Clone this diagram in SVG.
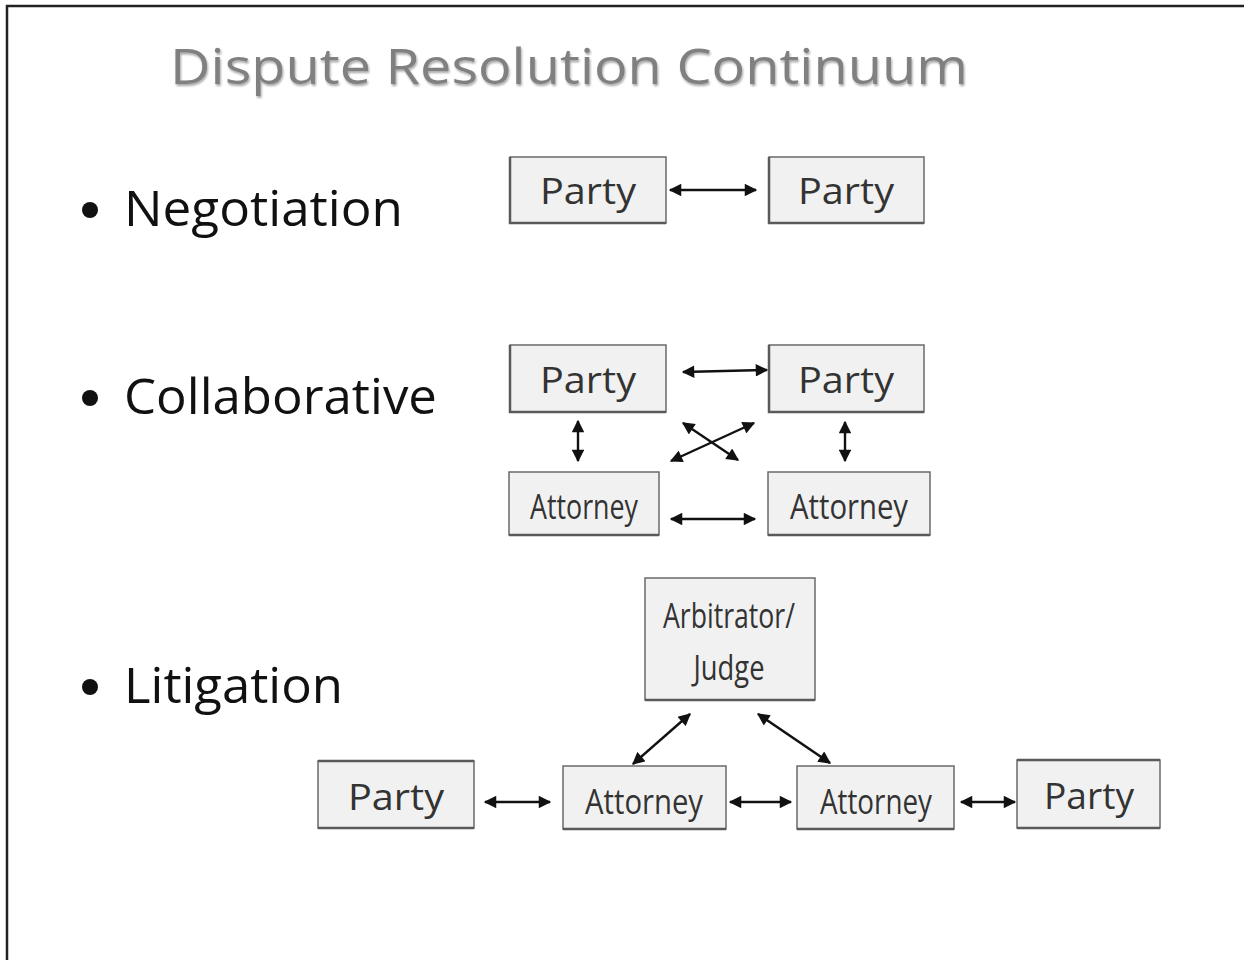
<svg xmlns="http://www.w3.org/2000/svg" width="1244" height="960" viewBox="0 0 1244 960">
<defs>
<marker id="ah" viewBox="0 0 10 10" refX="9" refY="5" markerWidth="5.6" markerHeight="5.2" orient="auto-start-reverse" markerUnits="strokeWidth">
<path d="M0,0 L10,5 L0,10 z" fill="#111"/>
</marker>
<filter id="sh" x="-5%" y="-20%" width="110%" height="150%">
<feGaussianBlur in="SourceAlpha" stdDeviation="1.2"/>
<feOffset dx="1" dy="2" result="b"/>
<feComponentTransfer><feFuncA type="linear" slope="0.35"/></feComponentTransfer>
<feMerge><feMergeNode/><feMergeNode in="SourceGraphic"/></feMerge>
</filter>
</defs>
<style>
.box{fill:#f1f1f1;stroke:#6a6a6a;stroke-width:1.5}
.edge{stroke:#5a5a5a;stroke-width:2.5;fill:none}
.lbl{font-family:"Open Sans","Noto Sans",sans-serif;fill:#333;text-anchor:middle}
.party{font-size:37px}
.att{font-size:34px}
.bul{font-family:"Open Sans","Noto Sans",sans-serif;font-size:49px;fill:#111}
.con{stroke:#111;stroke-width:2.4;fill:none;marker-start:url(#ah);marker-end:url(#ah)}
</style>
<rect width="1244" height="960" fill="#fff"/>
<path d="M7,960 L7,6 L1244,6" fill="none" stroke="#222" stroke-width="2.5"/>
<text x="170" y="84" font-family="'Open Sans','Noto Sans',sans-serif" font-size="50" fill="#808080" textLength="798" lengthAdjust="spacingAndGlyphs" filter="url(#sh)">Dispute Resolution Continuum</text>
<g id="bullets">
<circle cx="90" cy="210" r="8" fill="#111"/>
<text class="bul" x="124" y="226" textLength="279" lengthAdjust="spacingAndGlyphs">Negotiation</text>
<circle cx="90" cy="398" r="8" fill="#111"/>
<text class="bul" x="124" y="414" textLength="313" lengthAdjust="spacingAndGlyphs">Collaborative</text>
<circle cx="90" cy="687" r="8" fill="#111"/>
<text class="bul" x="124" y="703" textLength="219" lengthAdjust="spacingAndGlyphs">Litigation</text>
</g>
<g id="neg-party1"><rect class="box" x="510" y="157" width="156" height="66"/><path class="edge" d="M510,157 V223 H666"/><text class="lbl party" x="588" y="204" textLength="96" lengthAdjust="spacingAndGlyphs">Party</text></g>
<g id="neg-party2"><rect class="box" x="769" y="157" width="155" height="66"/><path class="edge" d="M769,157 V223 H924"/><text class="lbl party" x="846" y="204" textLength="96" lengthAdjust="spacingAndGlyphs">Party</text></g>
<g id="col-party1"><rect class="box" x="510" y="345" width="156" height="67"/><path class="edge" d="M510,345 V412 H666"/><text class="lbl party" x="588" y="393" textLength="96" lengthAdjust="spacingAndGlyphs">Party</text></g>
<g id="col-party2"><rect class="box" x="769" y="345" width="155" height="67"/><path class="edge" d="M769,345 V412 H924"/><text class="lbl party" x="846" y="393" textLength="96" lengthAdjust="spacingAndGlyphs">Party</text></g>
<g id="col-att1"><rect class="box" x="509" y="472" width="150" height="63"/><path class="edge" d="M509,535 H659"/><text class="lbl att" x="584" y="519" textLength="108" lengthAdjust="spacingAndGlyphs">Attorney</text></g>
<g id="col-att2"><rect class="box" x="768" y="472" width="162" height="63"/><path class="edge" d="M768,535 H930"/><text class="lbl att" x="849" y="519" textLength="118" lengthAdjust="spacingAndGlyphs">Attorney</text></g>
<g id="lit-judge"><rect class="box" x="645" y="578" width="170" height="122"/><path class="edge" d="M645,700 H815"/><text class="lbl att" x="729" y="628" textLength="132" lengthAdjust="spacingAndGlyphs">Arbitrator/</text><text class="lbl att" x="729" y="680" textLength="71" lengthAdjust="spacingAndGlyphs">Judge</text></g>
<g id="lit-party1"><rect class="box" x="318" y="761" width="156" height="67"/><path class="edge" d="M318,761 H474 M318,828 H474"/><text class="lbl party" x="396" y="810" textLength="96" lengthAdjust="spacingAndGlyphs">Party</text></g>
<g id="lit-att1"><rect class="box" x="563" y="766" width="163" height="63"/><path class="edge" d="M563,829 H726"/><text class="lbl att" x="644" y="814" textLength="118" lengthAdjust="spacingAndGlyphs">Attorney</text></g>
<g id="lit-att2"><rect class="box" x="797" y="766" width="157" height="63"/><path class="edge" d="M797,829 H954"/><text class="lbl att" x="876" y="814" textLength="112" lengthAdjust="spacingAndGlyphs">Attorney</text></g>
<g id="lit-party2"><rect class="box" x="1017" y="760" width="143" height="68"/><path class="edge" d="M1017,760 H1160 M1017,828 H1160"/><text class="lbl party" x="1089" y="809" textLength="90" lengthAdjust="spacingAndGlyphs">Party</text></g>
<g id="connectors">
<line class="con" x1="670" y1="190" x2="756" y2="190"/>
<line class="con" x1="683" y1="372" x2="767" y2="370"/>
<line class="con" x1="578" y1="421" x2="578" y2="461"/>
<line class="con" x1="845" y1="422" x2="845" y2="461"/>
<line class="con" x1="683" y1="423" x2="738" y2="460"/>
<line class="con" x1="754" y1="423" x2="671" y2="461"/>
<line class="con" x1="671" y1="519" x2="755" y2="519"/>
<line class="con" x1="690" y1="714" x2="633" y2="764"/>
<line class="con" x1="758" y1="714" x2="830" y2="763"/>
<line class="con" x1="485" y1="802" x2="550" y2="802"/>
<line class="con" x1="730" y1="802" x2="791" y2="802"/>
<line class="con" x1="961" y1="802" x2="1015" y2="802"/>
</g>
</svg>
